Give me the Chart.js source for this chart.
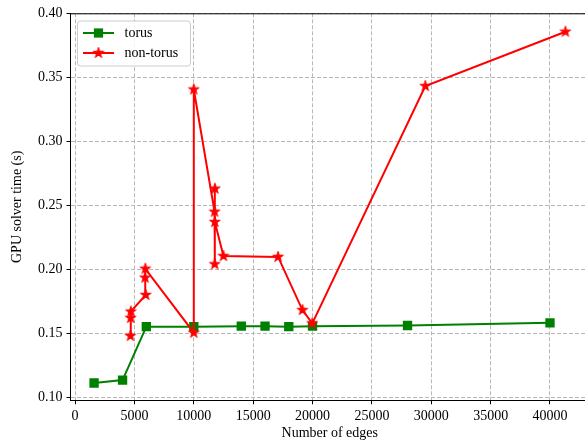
<!DOCTYPE html>
<html>
<head>
<meta charset="utf-8">
<script src="https://cdn.jsdelivr.net/npm/chart.js@4/dist/chart.umd.min.js"></script>
<style>
  html, body { margin: 0; padding: 0; background: #fff; }
  #wrap { width: 585px; height: 442px; overflow: hidden; }
</style>
</head>
<body>
<div id="wrap"><canvas id="chart" width="600" height="442"></canvas></div>
<script>
const torusEdges = [1600, 4000, 6000, 10000, 14000, 16000, 18000, 20000, 28000, 40000];
const torusTime = [0.1112, 0.1135, 0.1552, 0.1552, 0.1556, 0.1556, 0.1552, 0.1556, 0.1561, 0.1582];

const nonTorusEdges = [4660, 4680, 4700, 5950, 5900, 5920, 10000, 10000, 11750, 11780, 11760, 11770, 12500, 17100, 19150, 19980, 29500, 41300];
const nonTorusTime = [0.148, 0.162, 0.167, 0.180, 0.1935, 0.2005, 0.1505, 0.3405, 0.245, 0.263, 0.204, 0.237, 0.2104, 0.2097, 0.1682, 0.1578, 0.3432, 0.3856];

const xTicks = [0, 5000, 10000, 15000, 20000, 25000, 30000, 35000, 40000];
const yTicks = [0.10, 0.15, 0.20, 0.25, 0.30, 0.35, 0.40];

const FONT = "'Liberation Serif', 'Times New Roman', serif";
const GREEN = '#008000';
const RED = '#ff0000';

function starImage(outer) {
  const c = document.createElement('canvas');
  const s = Math.ceil(outer * 2 + 2);
  c.width = s; c.height = s;
  const g = c.getContext('2d');
  const inner = outer * 0.382;
  g.translate(s / 2, s / 2);
  g.beginPath();
  for (let i = 0; i < 10; i++) {
    const r = i % 2 === 0 ? outer : inner;
    const a = -Math.PI / 2 + i * Math.PI / 5;
    if (i === 0) g.moveTo(r * Math.cos(a), r * Math.sin(a));
    else g.lineTo(r * Math.cos(a), r * Math.sin(a));
  }
  g.closePath();
  g.fillStyle = RED;
  g.strokeStyle = RED;
  g.lineWidth = 1;
  g.fill();
  g.stroke();
  return c;
}
const star = starImage(5.6);

const pts = (xs, ys) => xs.map((x, i) => ({ x, y: ys[i] }));

const frameAndLegend = {
  id: 'frameAndLegend',
  afterDraw(chart) {
    const { ctx, chartArea: a } = chart;
    ctx.save();
    // top spine
    ctx.strokeStyle = '#000';
    ctx.lineWidth = 1;
    ctx.beginPath();
    ctx.moveTo(a.left, a.top + 0.5);
    ctx.lineTo(a.right, a.top + 0.5);
    ctx.stroke();

    // legend box
    const bx = 77.5, by = 21, bw = 113, bh = 45, r = 3;
    ctx.beginPath();
    ctx.roundRect(bx, by, bw, bh, r);
    ctx.fillStyle = 'rgba(255,255,255,0.85)';
    ctx.fill();
    ctx.strokeStyle = '#cccccc';
    ctx.lineWidth = 1;
    ctx.stroke();

    const rows = [
      { label: 'torus', color: GREEN, y: 33 },
      { label: 'non-torus', color: RED, y: 53 },
    ];
    rows.forEach((row, i) => {
      ctx.strokeStyle = row.color;
      ctx.lineWidth = 2;
      ctx.beginPath();
      ctx.moveTo(83, row.y);
      ctx.lineTo(114, row.y);
      ctx.stroke();
      if (i === 0) {
        ctx.fillStyle = GREEN;
        ctx.fillRect(98.5 - 4.6, row.y - 4.6, 9.2, 9.2);
      } else {
        ctx.drawImage(star, 98.5 - star.width / 2, row.y - star.height / 2);
      }
      ctx.fillStyle = '#000';
      ctx.font = '14px ' + FONT;
      ctx.textBaseline = 'middle';
      ctx.textAlign = 'left';
      ctx.fillText(row.label, 124.5, row.y);
    });
    ctx.restore();
  }
};

new Chart(document.getElementById('chart'), {
  type: 'scatter',
  data: {
    datasets: [
      {
        label: 'torus',
        data: pts(torusEdges, torusTime),
        showLine: true,
        borderColor: GREEN,
        backgroundColor: GREEN,
        borderWidth: 2,
        pointStyle: 'rect',
        pointRadius: 6.6,
        pointBorderWidth: 0,
        order: 2,
      },
      {
        label: 'non-torus',
        data: pts(nonTorusEdges, nonTorusTime),
        showLine: true,
        borderColor: RED,
        backgroundColor: RED,
        borderWidth: 2,
        pointStyle: star,
        pointRadius: 5.6,
        order: 1,
      },
    ],
  },
  options: {
    responsive: false,
    animation: false,
    events: [],
    layout: { padding: { left: 0, right: 11, top: 13.3, bottom: 0 } },
    plugins: { legend: { display: false }, tooltip: { enabled: false } },
    scales: {
      x: {
        type: 'linear',
        min: -385,
        max: 43285,
        afterFit(s) { s.height = 41.7; },
        afterBuildTicks(s) { s.ticks = xTicks.map(v => ({ value: v })); },
        ticks: {
          color: '#000',
          padding: 3.5,
          maxRotation: 0,
          autoSkip: false,
          font: { family: FONT, size: 14 },
          callback: v => String(v),
        },
        grid: {
          color: '#b0b0b0',
          lineWidth: 0.9,
          tickLength: 4,
          tickColor: '#000',
          tickWidth: 1,
          tickBorderDash: [],
        },
        border: { display: true, color: '#000', width: 1, dash: [4, 2] },
        title: {
          display: true,
          text: 'Number of edges',
          color: '#000',
          font: { family: FONT, size: 14 },
          padding: { top: 0, bottom: 0 },
        },
      },
      y: {
        type: 'linear',
        min: 0.0977,
        max: 0.4,
        afterFit(s) { s.width = 70.5; },
        afterBuildTicks(s) { s.ticks = yTicks.map(v => ({ value: v })); },
        ticks: {
          color: '#000',
          padding: 4,
          autoSkip: false,
          font: { family: FONT, size: 14 },
          callback: v => v.toFixed(2),
        },
        grid: {
          color: '#b0b0b0',
          lineWidth: 0.9,
          tickLength: 4,
          tickColor: '#000',
          tickWidth: 1,
          tickBorderDash: [],
        },
        border: { display: true, color: '#000', width: 1, dash: [4, 2] },
        title: {
          display: true,
          text: 'GPU solver time (s)',
          color: '#000',
          font: { family: FONT, size: 14 },
          padding: { top: 8.6, bottom: 0 },
        },
      },
    },
  },
  plugins: [frameAndLegend],
});
</script>
</body>
</html>
